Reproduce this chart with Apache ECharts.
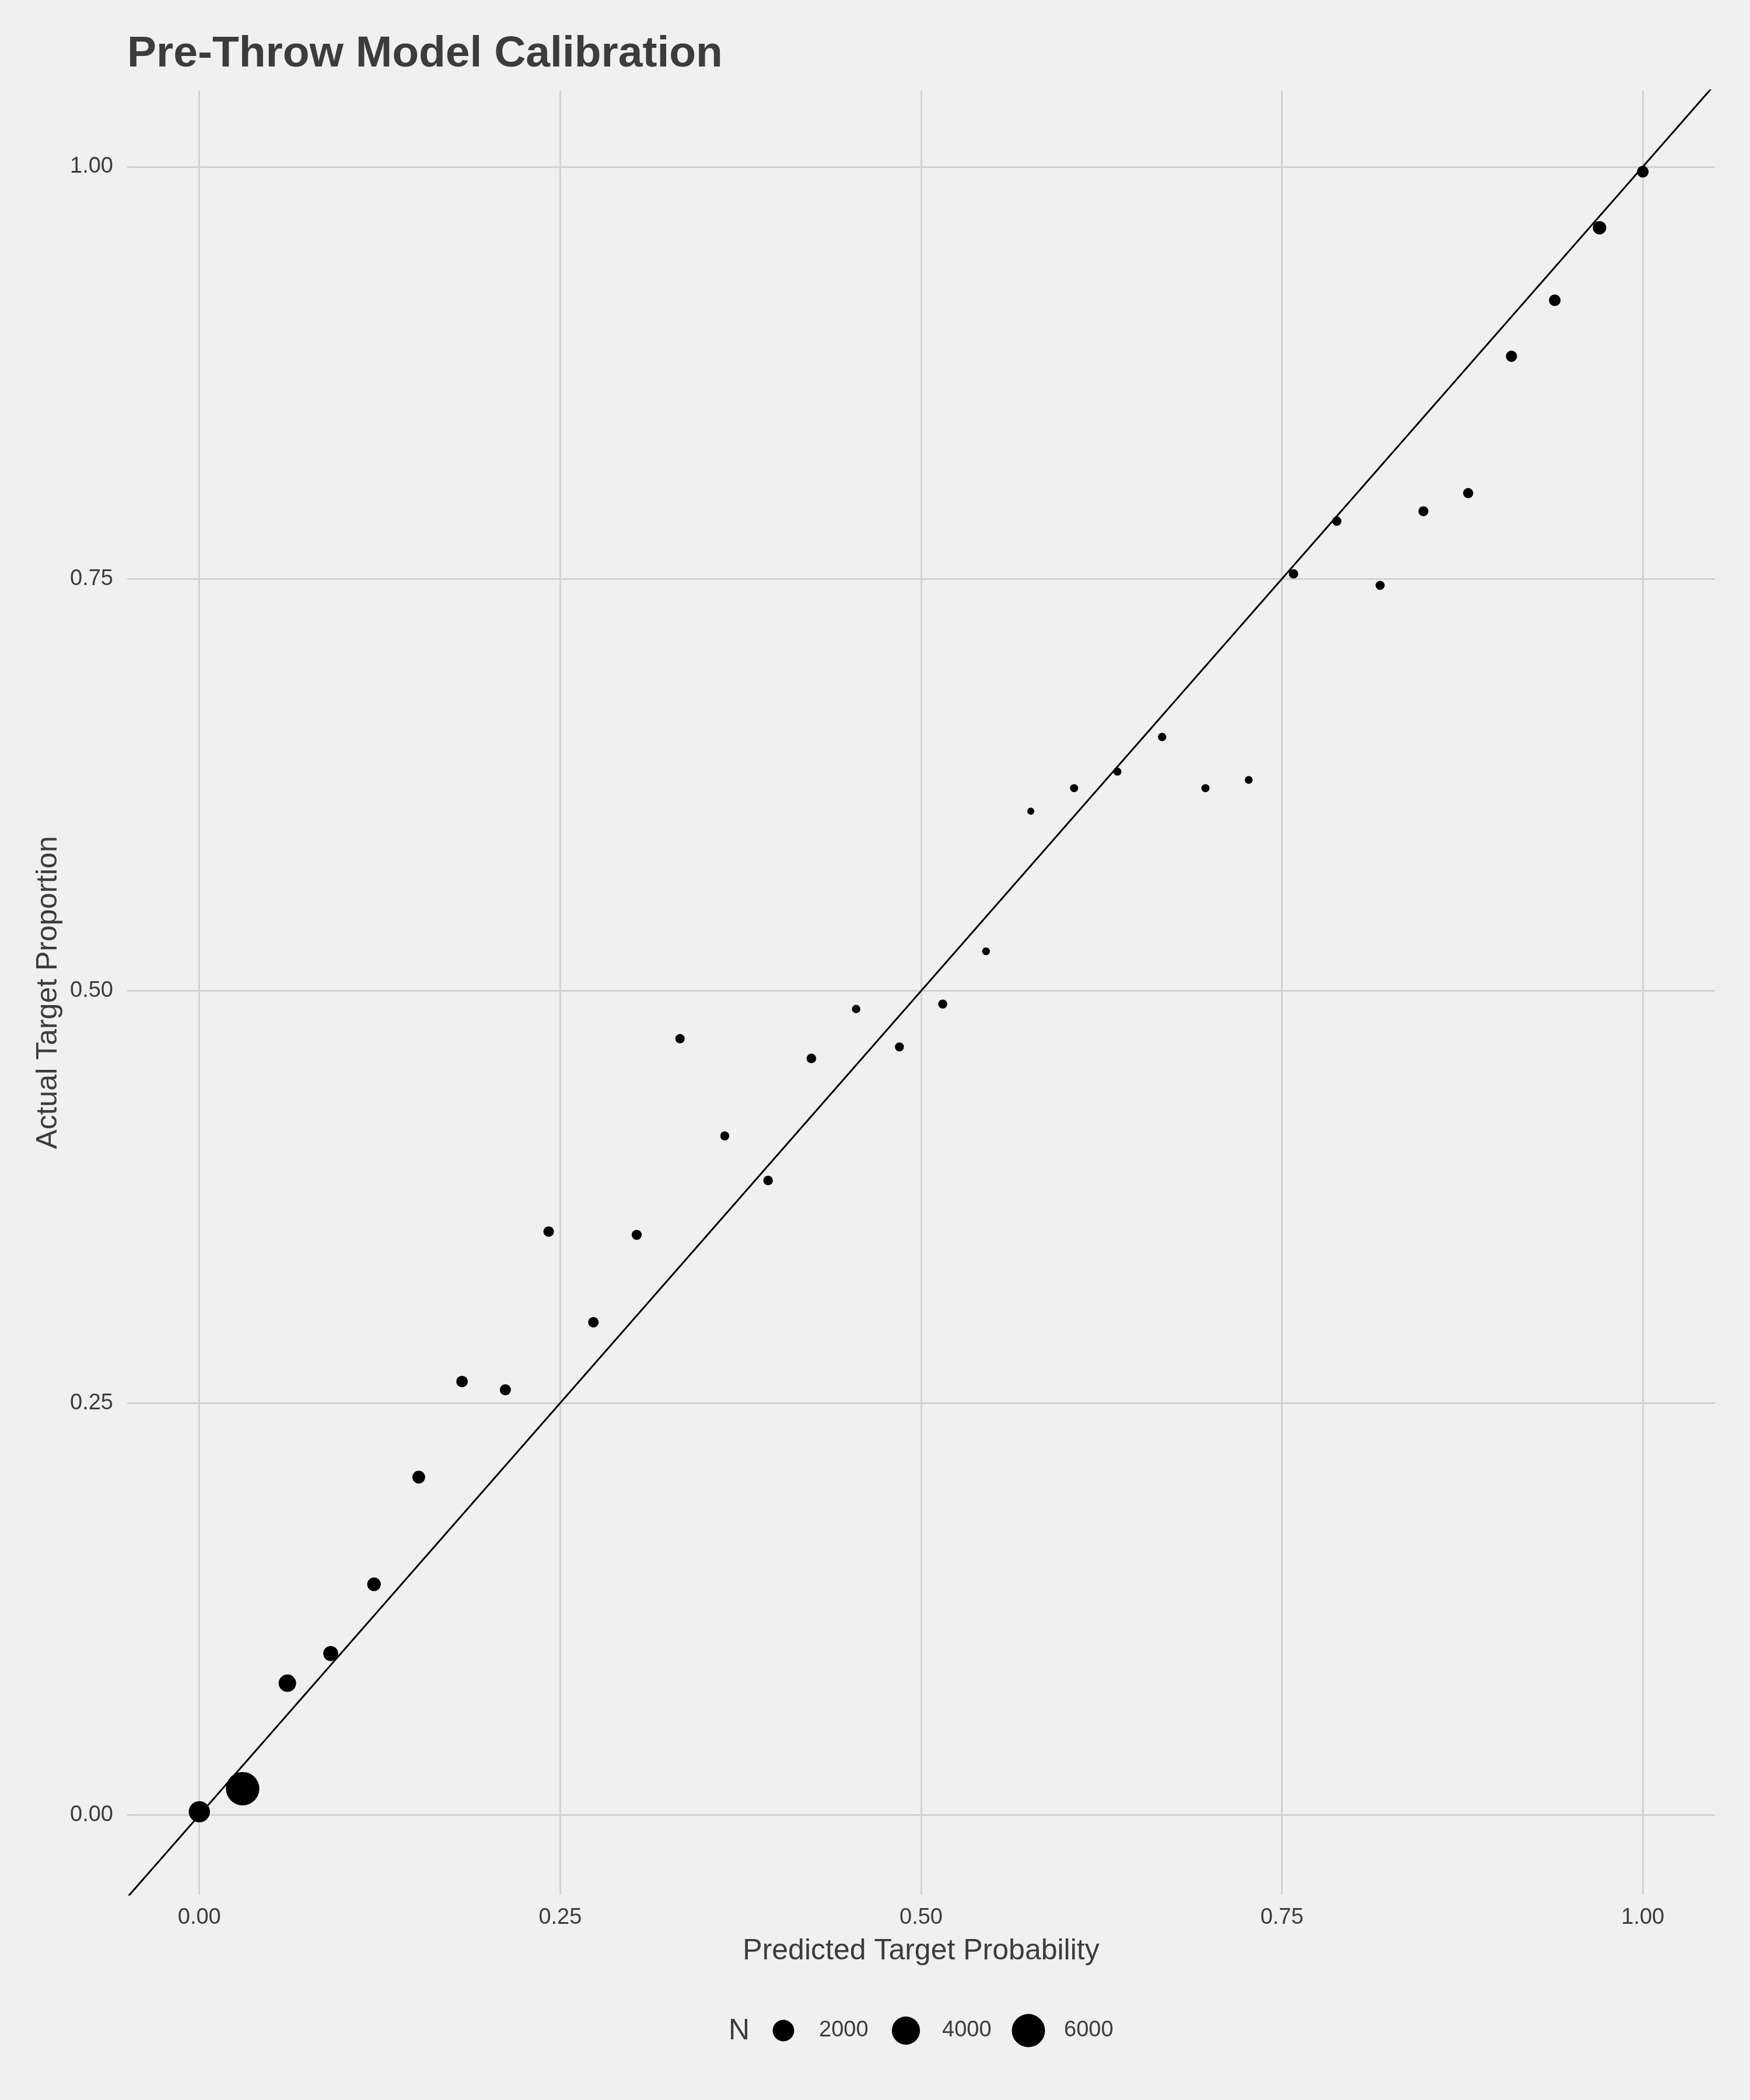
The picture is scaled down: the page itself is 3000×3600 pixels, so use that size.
<!DOCTYPE html>
<html>
<head>
<meta charset="utf-8">
<script src="https://cdn.jsdelivr.net/npm/echarts@6/dist/echarts.min.js"></script>
<style>
html,body{margin:0;padding:0;background:#F0F0F0;}
#chart{width:3000px;height:3600px;}
</style>
</head>
<body>
<div id="chart"></div>
<script>
// ---- Data ----
const predicted = [0.000, 0.030, 0.061, 0.091, 0.121, 0.152, 0.182, 0.212, 0.242, 0.273,
                   0.303, 0.333, 0.364, 0.394, 0.424, 0.455, 0.485, 0.515, 0.545, 0.576,
                   0.606, 0.636, 0.667, 0.697, 0.727, 0.758, 0.788, 0.818, 0.848, 0.879,
                   0.909, 0.939, 0.970, 1.000];
const actual = [0.002, 0.016, 0.080, 0.098, 0.140, 0.205, 0.263, 0.258, 0.354, 0.299,
                0.352, 0.471, 0.412, 0.385, 0.459, 0.489, 0.466, 0.492, 0.524, 0.609,
                0.623, 0.633, 0.654, 0.623, 0.628, 0.753, 0.785, 0.746, 0.791, 0.802,
                0.885, 0.919, 0.963, 0.997];
const counts = [1950, 6100, 1160, 770, 610, 520, 420, 390, 350, 350,
                325, 295, 285, 305, 305, 265, 280, 285, 255, 250,
                260, 260, 265, 260, 255, 295, 295, 285, 320, 330,
                400, 430, 590, 430];
const xTicks = [0, 0.25, 0.5, 0.75, 1];
const yTicks = [0, 0.25, 0.5, 0.75, 1];
const legendBreaks = [2000, 4000, 6000];
const refSlope = 1, refIntercept = 0;

// ---- Styling / layout ----
const FONT = '"Liberation Sans", Arial, Helvetica, sans-serif';
const TXT = '#3C3C3C';
const GRID = '#D2D2D2';
const sizeRange = [12.1, 57.3];
const nMin = Math.min(...counts), nMax = Math.max(...counts);
function sizeFn(n) {
  const t = Math.max(0, (n - nMin) / (nMax - nMin));
  return sizeRange[0] + (sizeRange[1] - sizeRange[0]) * Math.sqrt(t);
}
const xLim = [-0.05, 1.05];
const yLim = [-0.0483, 1.0463];

const points = predicted.map((x, i) => [x, actual[i], counts[i]]);
const refLine = [xLim[0], xLim[1]].map(x => [x, refIntercept + refSlope * x]);

const chart = echarts.init(document.getElementById('chart'), null, {renderer: 'canvas'});

const legendY = 3481;
const legendCircleX = [1343, 1553, 1763];
const legendTextX = [1404, 1615, 1824];
const graphics = [
  {type: 'text', x: 1249, y: legendY + 1,
   style: {text: 'N', font: '50px ' + FONT, fill: TXT, align: 'left', verticalAlign: 'middle'}}
];
legendBreaks.forEach((b, i) => {
  graphics.push({type: 'circle', shape: {cx: legendCircleX[i], cy: legendY, r: sizeFn(b) / 2},
                 style: {fill: '#000000'}});
  graphics.push({type: 'text', x: legendTextX[i], y: legendY,
                 style: {text: String(b), font: '38px ' + FONT, fill: TXT, align: 'left', verticalAlign: 'middle'}});
});

const option = {
  backgroundColor: '#F0F0F0',
  animation: false,
  title: {
    text: 'Pre-Throw Model Calibration',
    left: 218, top: 56, padding: 0,
    textStyle: {fontSize: 75, fontWeight: 'bold', color: TXT, fontFamily: FONT}
  },
  grid: {left: 218, right: 60, top: 155, bottom: 352, containLabel: false, outerBoundsMode: 'none'},
  xAxis: {
    type: 'value', min: xLim[0], max: xLim[1],
    axisLine: {show: false},
    axisTick: {show: false, customValues: xTicks},
    axisLabel: {customValues: xTicks, formatter: v => v.toFixed(2), fontSize: 38, color: TXT,
                fontFamily: FONT, margin: 21},
    splitLine: {show: true, lineStyle: {color: GRID, width: 3}},
    name: 'Predicted Target Probability', nameLocation: 'middle', nameGap: 72,
    nameTextStyle: {fontSize: 50, color: TXT, fontFamily: FONT}
  },
  yAxis: {
    type: 'value', min: yLim[0], max: yLim[1],
    axisLine: {show: false},
    axisTick: {show: false, customValues: yTicks},
    axisLabel: {customValues: yTicks, formatter: v => v.toFixed(2), fontSize: 38, color: TXT,
                fontFamily: FONT, margin: 24},
    splitLine: {show: true, lineStyle: {color: GRID, width: 3}},
    name: 'Actual Target Proportion', nameLocation: 'middle', nameGap: 110, nameRotate: 90,
    nameMoveOverlap: false,
    nameTextStyle: {fontSize: 50, color: TXT, fontFamily: FONT}
  },
  series: [
    {
      type: 'line', data: refLine, showSymbol: false, symbol: 'none', clip: true, z: 2,
      lineStyle: {color: '#000000', width: 3}, silent: true
    },
    {
      type: 'scatter', data: points, z: 3,
      symbol: 'circle',
      symbolSize: v => sizeFn(v[2]),
      itemStyle: {color: '#000000', opacity: 1}
    }
  ],
  graphic: graphics
};
chart.setOption(option);
</script>
</body>
</html>
